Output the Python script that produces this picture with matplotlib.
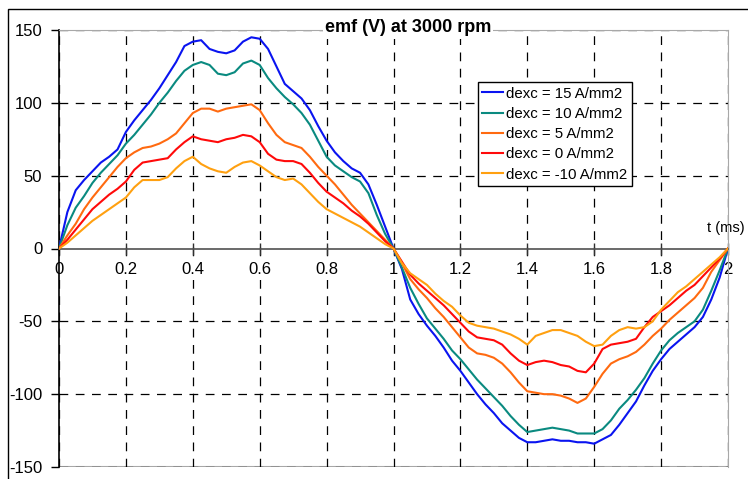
import matplotlib
matplotlib.use("Agg")
import matplotlib.pyplot as plt
import numpy as np
from matplotlib.patches import Rectangle

plt.rcParams["font.family"] = ["Liberation Sans", "DejaVu Sans"]
plt.rcParams["axes.unicode_minus"] = False

# time axis (ms), common grid for all curves
t_ms = np.arange(81) * 0.025

emf_15 = [0, 25, 40, 47, 53, 59, 63, 68, 80, 88, 95, 102, 110, 119, 128, 139, 142, 143, 137, 135,
          134, 136, 142, 145, 144, 137, 125, 113, 108, 103, 95, 84, 74, 66, 60, 55, 52, 44, 30, 15,
          0, -14, -35, -45, -53, -60, -68, -77, -84, -92, -100, -107, -113, -120, -125, -130, -133, -133, -132, -131,
          -132, -132, -133, -133, -134, -131, -128, -121, -113, -105, -94, -84, -76, -69, -64, -59, -54, -47, -35, -20, 0]
emf_10 = [0, 16, 28, 36, 45, 52, 58, 64, 72, 78, 85, 92, 100, 107, 115, 122, 126, 128, 126, 120,
          119, 121, 127, 129, 126, 117, 110, 104, 99, 93, 85, 74, 63, 57, 53, 49, 46, 38, 23, 10,
          0, -13, -27, -38, -48, -55, -62, -70, -76, -83, -90, -96, -102, -108, -115, -121, -126, -125, -124, -123,
          -124, -125, -127, -127, -127, -124, -118, -110, -104, -97, -89, -79, -70, -63, -58, -54, -50, -42, -29, -15, 0]
emf_5 = [0, 9, 17, 27, 35, 42, 49, 56, 62, 66, 69, 70, 72, 75, 79, 86, 93, 96, 96, 94,
         96, 97, 98, 99, 95, 86, 78, 73, 71, 69, 63, 56, 50, 44, 37, 30, 24, 18, 12, 6,
         0, -10, -21, -28, -34, -41, -47, -54, -61, -68, -72, -73, -75, -79, -85, -92, -98, -99, -100, -100,
         -101, -103, -106, -103, -95, -86, -79, -76, -74, -71, -66, -60, -55, -49, -44, -39, -34, -27, -16, -8, 0]
emf_0 = [0, 6, 13, 20, 27, 32, 37, 41, 46, 54, 59, 60, 61, 62, 68, 73, 77, 75, 74, 73,
         75, 76, 78, 77, 73, 65, 61, 60, 60, 58, 52, 45, 39, 35, 31, 26, 22, 17, 11, 5,
         0, -9, -18, -24, -29, -34, -39, -45, -51, -57, -61, -62, -63, -66, -72, -77, -80, -78, -77, -78,
         -80, -81, -84, -85, -79, -69, -66, -65, -64, -62, -54, -47, -43, -39, -34, -29, -25, -19, -13, -7, 0]
emf_m10 = [0, 4, 9, 14, 19, 23, 27, 31, 35, 42, 47, 47, 47, 49, 55, 60, 63, 58, 55, 53,
           52, 56, 59, 60, 57, 53, 49, 47, 48, 44, 38, 32, 27, 24, 21, 18, 15, 11, 7, 3,
           0, -10, -17, -21, -25, -31, -36, -40, -46, -51, -53, -54, -55, -57, -59, -62, -66, -60, -58, -56,
           -56, -58, -60, -64, -67, -66, -60, -56, -54, -55, -54, -50, -42, -36, -30, -26, -21, -16, -11, -6, 0]

series = [
    ("dexc = 15 A/mm2", emf_15, "#0a14f0"),
    ("dexc = 10 A/mm2", emf_10, "#0a8a80"),
    ("dexc = 5 A/mm2", emf_5, "#ff6a10"),
    ("dexc = 0 A/mm2", emf_0, "#ff0a0a"),
    ("dexc = -10 A/mm2", emf_m10, "#ffa010"),
]

x_ticks = [0, 0.2, 0.4, 0.6, 0.8, 1, 1.2, 1.4, 1.6, 1.8, 2]
x_labels = ["0", "0.2", "0.4", "0.6", "0.8", "1", "1.2", "1.4", "1.6", "1.8", "2"]
y_ticks = [-150, -100, -50, 0, 50, 100, 150]

fig = plt.figure(figsize=(7.48, 4.79), dpi=100)
fig.patches.append(Rectangle((8 / 748, -0.1), 1.0, 1.1 - 9 / 479, transform=fig.transFigure,
                             fill=False, edgecolor="black", lw=1.0))
ax = fig.add_axes([59 / 748, 12 / 479, 669 / 748, 437 / 479])

ax.set_xlim(0, 2)
ax.set_ylim(-150, 150)

for xv in x_ticks:
    ax.axvline(xv, color="black", lw=0.9, ls=(0, (7, 6)), zorder=1)
for yv in y_ticks:
    if yv != 0:
        ax.axhline(yv, color="black", lw=0.9, ls=(0, (7, 6)), zorder=1)

for label, vals, col in series:
    ax.plot(t_ms, vals, color=col, lw=1.5, label=label, zorder=3)

for side in ("top", "right"):
    ax.spines[side].set_color("#a8a8a8")
ax.spines["left"].set_color("black")
ax.spines["left"].set_linewidth(1.2)
ax.spines["bottom"].set_position(("data", 0))
ax.spines["bottom"].set_color("#505050")
ax.spines["bottom"].set_linewidth(1.2)
ax.axhline(-150, color="#a8a8a8", lw=1.5, zorder=0)

ax.set_xticks(x_ticks)
ax.set_xticklabels(x_labels)
ax.set_yticks(y_ticks)
ax.tick_params(axis="x", direction="inout", length=8, width=1, color="#303030",
               labelsize=12, pad=6)
ax.tick_params(axis="y", direction="out", length=6, width=1, labelsize=12, pad=6)
for lab in ax.get_xticklabels():
    lab.set_bbox(dict(facecolor="white", edgecolor="none", pad=0.5))

fig.text(745 / 748, 1 - 228 / 479, "t (ms)", ha="right", va="center", fontsize=10.5)

fig.text(408 / 748, 1 - 28 / 479, "emf (V) at 3000 rpm", ha="center", va="center",
         fontsize=13, fontweight="bold",
         bbox=dict(facecolor="white", edgecolor="none", pad=1.5))

leg = ax.legend(loc="upper left", bbox_to_anchor=(0.626, 0.881), fontsize=10.8,
                frameon=True, fancybox=False, edgecolor="black", framealpha=1,
                handlelength=1.4, handletextpad=0.2, borderpad=0.3, labelspacing=0.42,
                borderaxespad=0)
leg.get_frame().set_linewidth(1.0)

fig.savefig("out.png", dpi=100)
